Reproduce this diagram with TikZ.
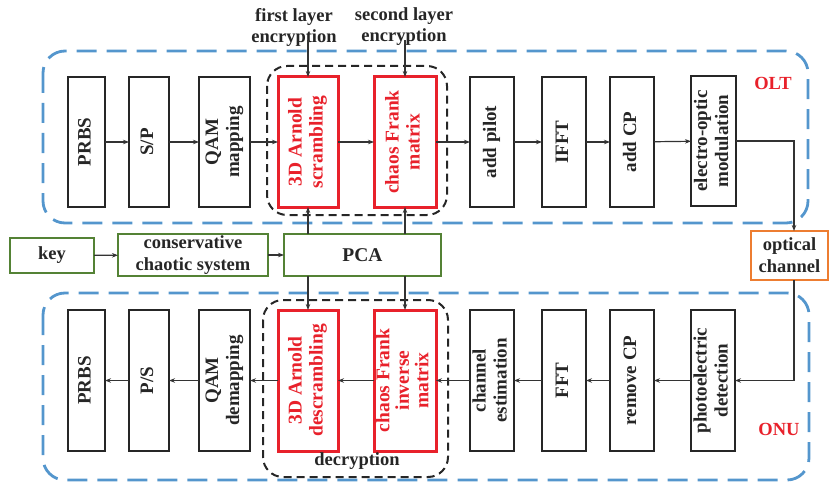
\documentclass[tikz,border=0pt]{standalone}
\usepackage{fontspec}
\setmainfont{Liberation Serif}
\usetikzlibrary{arrows.meta}
\definecolor{linkblue}{RGB}{84,150,205}
\definecolor{cryptred}{RGB}{232,33,43}
\definecolor{keygreen}{RGB}{84,130,53}
\definecolor{chanorange}{RGB}{237,125,49}
\newcommand{\vtext}[1]{\rotatebox{90}{\begin{tabular}{@{}c@{}}#1\end{tabular}}}
\begin{document}
\begin{tikzpicture}[x=1pt,y=-1pt,
  font=\fontsize{18.5}{21}\selectfont\bfseries,
  boxfont/.style={font=\fontsize{19}{21}\selectfont\bfseries},
  redfont/.style={font=\fontsize{19.5}{21}\selectfont\bfseries},
  blk/.style={boxfont, draw=black!85, line width=2pt, inner sep=0pt, outer sep=0pt, text=black!85},
  redblk/.style={redfont, draw=cryptred, line width=3pt, inner sep=0pt, outer sep=0pt, text=cryptred},
  grn/.style={draw=keygreen, line width=2pt, inner sep=0pt, outer sep=0pt, text=black!85},
  arr/.style={draw=black!80, line width=1.2pt, -{Stealth[length=6pt,width=4.5pt]}},
  link/.style={draw=linkblue, line width=2.8pt, dash pattern=on 20pt off 10pt, rounded corners=22pt},
  grp/.style={draw=black!85, line width=2pt, dash pattern=on 8pt off 5pt, rounded corners=20pt},
  lbl/.style={align=center, inner sep=0pt, text=black!85}]
\useasboundingbox (0,0) rectangle (832,484);

% OLT and ONU frames
\draw[link] (43,51) rectangle (808,223);
\draw[link] (43,293) rectangle (809,480);
% encryption / decryption groups
\draw[grp] (267,66) rectangle (447,215);
\draw[grp] (263,300) rectangle (448,477);

\node[text=cryptred] (olt) at (773,83) {OLT};
\node[text=cryptred] (onu) at (779,429) {ONU};

% transmitter chain
\node[blk, minimum width=37, minimum height=130] (tprbs) at (86.5,142) {\vtext{PRBS}};
\node[blk, minimum width=40, minimum height=130] (sp) at (149,142) {\vtext{S/P}};
\node[blk, minimum width=51, minimum height=130] (qam) at (224.5,142) {\vtext{QAM\\mapping}};
\node[redblk, minimum width=60, minimum height=130] (scr) at (308,142) {\vtext{3D Arnold\\scrambling}};
\node[redblk, minimum width=62, minimum height=130] (frk) at (405,142) {\vtext{chaos Frank\\matrix}};
\node[blk, minimum width=44, minimum height=130] (pil) at (492,142) {\vtext{add pilot}};
\node[blk, minimum width=44, minimum height=130] (ifft) at (564,142) {\vtext{IFFT}};
\node[blk, minimum width=44, minimum height=130] (acp) at (632,142) {\vtext{add CP}};
\node[blk, minimum width=45, minimum height=130] (eom) at (713.5,141) {\vtext{electro-optic\\modulation}};

\draw[arr] (tprbs) -- (sp);
\draw[arr] (sp) -- (qam);
\draw[arr] (qam) -- (scr);
\draw[arr] (scr) -- (frk);
\draw[arr] (frk) -- (pil);
\draw[arr] (pil) -- (ifft);
\draw[arr] (ifft) -- (acp);
\draw[arr] (acp) -- (eom);

% encryption labels
\node[lbl] (enc1) at (294,27) {first layer\\encryption};
\node[lbl] (enc2) at (404,27) {second layer\\encryption};
\draw[arr] ([yshift=6]enc1.south -| scr.north) -- (scr.north);
\draw[arr] ([yshift=6]enc2.south -| frk.north) -- (frk.north);

% key generation
\node[grn, minimum width=84, minimum height=35] (key) at (52,255.5) {key};
\node[grn, minimum width=150, minimum height=42, align=center, font=\fontsize{18.5}{22}\selectfont\bfseries] (ccs) at (193,255) {conservative\\chaotic system};
\node[grn, minimum width=157, minimum height=42, font=\fontsize{19.5}{22}\selectfont\bfseries] (pca) at (362.5,255) {PCA};
\draw[arr] (key) -- (ccs);
\draw[arr] (ccs) -- (pca);

% optical channel
\node[draw=chanorange, line width=2pt, inner sep=0pt, outer sep=0pt, minimum width=77, minimum height=49, align=center, text=black!85, font=\fontsize{18.5}{22}\selectfont\bfseries] (optc) at (789.5,255.5) {optical\\channel};

% receiver chain
\node[blk, minimum width=37, minimum height=141] (rprbs) at (86.5,380.5) {\vtext{PRBS}};
\node[blk, minimum width=40, minimum height=141] (ps) at (149,380.5) {\vtext{P/S}};
\node[blk, minimum width=51, minimum height=141] (qamd) at (224.5,380.5) {\vtext{QAM\\demapping}};
\node[redblk, minimum width=60, minimum height=141] (dscr) at (308,380.5) {\vtext{3D Arnold\\descrambling}};
\node[redblk, minimum width=62, minimum height=141, font=\fontsize{19.5}{19.5}\selectfont\bfseries] (ifrk) at (405,380.5) {\vtext{chaos Frank\\inverse\\matrix}};
\node[blk, minimum width=44, minimum height=141] (che) at (492,380.5) {\vtext{channel\\estimation}};
\node[blk, minimum width=44, minimum height=141] (fft) at (564,380.5) {\vtext{FFT}};
\node[blk, minimum width=44, minimum height=141] (rcp) at (632,380.5) {\vtext{remove CP}};
\node[blk, minimum width=44, minimum height=141] (pd) at (713,380.5) {\vtext{photoelectric\\detection}};

\draw[arr] (pd) -- (rcp);
\draw[arr] (rcp) -- (fft);
\draw[arr] (fft) -- (che);
\draw[arr] (che) -- (ifrk);
\draw[arr] (ifrk) -- (dscr);
\draw[arr] (dscr) -- (qamd);
\draw[arr] (qamd) -- (ps);
\draw[arr] (ps) -- (rprbs);

\node[lbl] (dec) at (357,461) {decryption};

% key distribution to both sides
\draw[arr] (scr.south |- pca.north) -- (scr.south);
\draw[arr] (frk.south |- pca.north) -- (frk.south);
\draw[arr] (dscr.north |- pca.south) -- (dscr.north);
\draw[arr] (ifrk.north |- pca.south) -- (ifrk.north);

% fibre link
\draw[arr] (eom.east) -| ([xshift=4.5]optc.north);
\draw[arr] ([xshift=4.5]optc.south) |- (pd.east);
\end{tikzpicture}
\end{document}
